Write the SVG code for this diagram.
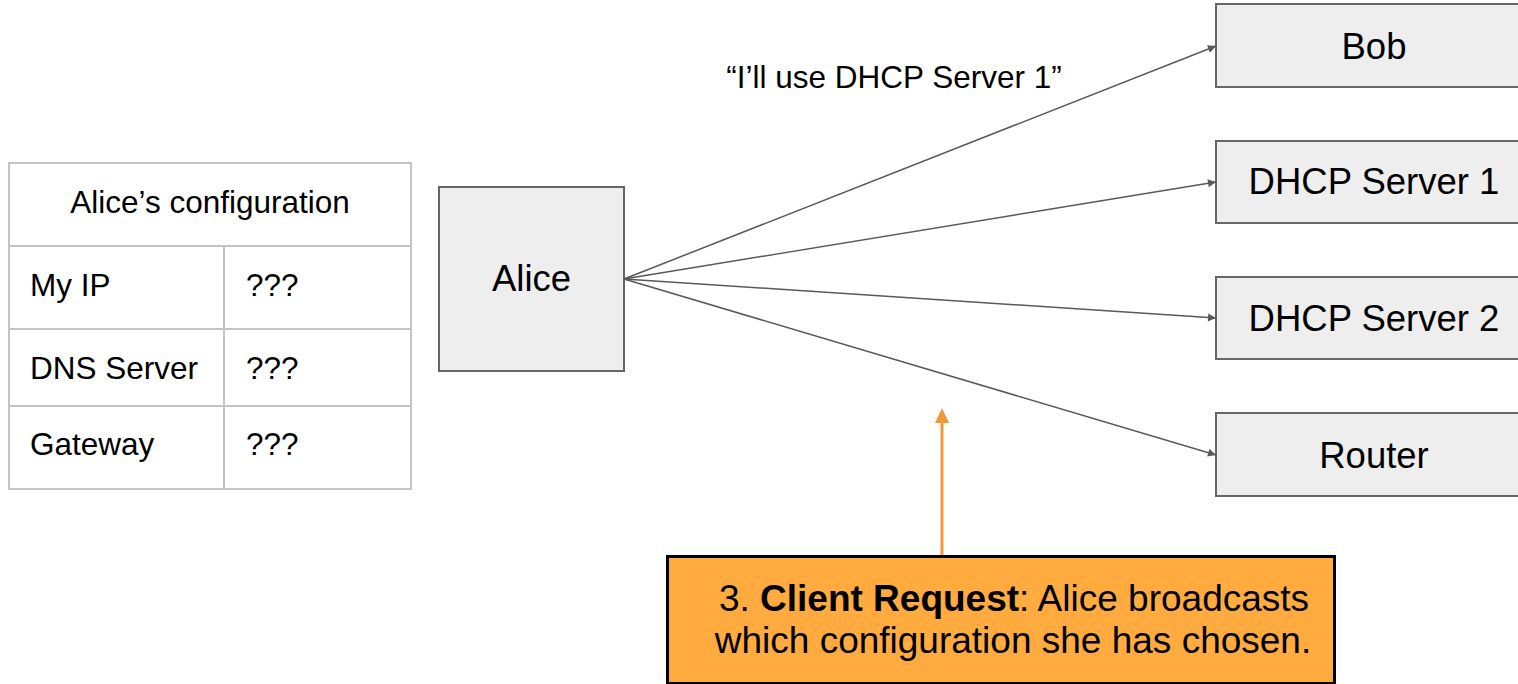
<svg xmlns="http://www.w3.org/2000/svg" width="1518" height="684" viewBox="0 0 1518 684">
<style>
  text { font-family: "Liberation Sans", Arial, sans-serif; fill: #000; }
  .tbl { fill: none; stroke: #c4c4c4; stroke-width: 2; }
  .cell { font-size: 31.5px; }
  .node rect { fill: #eeeeee; stroke: #666666; stroke-width: 2; }
  .lbl { font-size: 36.5px; text-anchor: middle; }
  .conn .edge { stroke: #595959; stroke-width: 1.5; fill: none; }
  .conn .hl { stroke: #f0983a; stroke-width: 3; fill: none; }
  .note { font-size: 37px; text-anchor: middle; }
</style>
<defs>
  <marker id="ah" viewBox="0 0 10 10" refX="10" refY="5" markerWidth="10" markerHeight="8" markerUnits="userSpaceOnUse" orient="auto">
    <path d="M0,0 L10,5 L0,10 z" fill="#595959"/>
  </marker>
</defs>
<rect width="1518" height="684" fill="#ffffff"/>

<g id="config-table">
  <rect class="tbl" x="9" y="163" width="402" height="326"/>
  <line class="tbl" x1="9" y1="246" x2="411" y2="246"/>
  <line class="tbl" x1="9" y1="329" x2="411" y2="329"/>
  <line class="tbl" x1="9" y1="406" x2="411" y2="406"/>
  <line class="tbl" x1="224" y1="246" x2="224" y2="489"/>
  <text class="cell" x="210" y="213" text-anchor="middle" font-size="32.5">Alice’s configuration</text>
  <text class="cell" x="30" y="296">My IP</text>
  <text class="cell" x="246" y="296">???</text>
  <text class="cell" x="30" y="379">DNS Server</text>
  <text class="cell" x="246" y="379">???</text>
  <text class="cell" x="30" y="455">Gateway</text>
  <text class="cell" x="246" y="455">???</text>
</g>

<g id="alice" class="node">
  <rect x="439" y="187" width="185" height="184"/>
  <text class="lbl" x="531.5" y="291" font-size="37.5">Alice</text>
</g>

<g id="bob" class="node">
  <rect x="1216" y="4" width="316" height="83"/>
  <text class="lbl" x="1374" y="59">Bob</text>
</g>
<g id="dhcp1" class="node">
  <rect x="1216" y="141" width="316" height="82"/>
  <text class="lbl" x="1374" y="194">DHCP Server 1</text>
</g>
<g id="dhcp2" class="node">
  <rect x="1216" y="277" width="316" height="82"/>
  <text class="lbl" x="1374" y="331">DHCP Server 2</text>
</g>
<g id="router" class="node">
  <rect x="1216" y="413" width="316" height="83"/>
  <text class="lbl" x="1374" y="468">Router</text>
</g>

<g id="connectors" class="conn">
  <line class="edge" x1="624" y1="279" x2="1216" y2="46" marker-end="url(#ah)"/>
  <line class="edge" x1="624" y1="279" x2="1216" y2="182" marker-end="url(#ah)"/>
  <line class="edge" x1="624" y1="279" x2="1216" y2="318" marker-end="url(#ah)"/>
  <line class="edge" x1="624" y1="279" x2="1216" y2="455" marker-end="url(#ah)"/>
  <line class="hl" x1="942" y1="555" x2="942" y2="422"/>
  <path d="M935,423 L949,423 L942,408 z" fill="#f0983a"/>
</g>

<text x="894" y="88" font-size="31.5" text-anchor="middle">“I’ll use DHCP Server 1”</text>

<g id="note">
  <rect x="667.5" y="556.5" width="667" height="127" fill="#ffab40" stroke="#000000" stroke-width="3"/>
  <text class="note" x="1014" y="611">3. <tspan font-weight="bold">Client Request</tspan>: Alice broadcasts</text>
  <text class="note" x="1013" y="653">which configuration she has chosen.</text>
</g>
</svg>
